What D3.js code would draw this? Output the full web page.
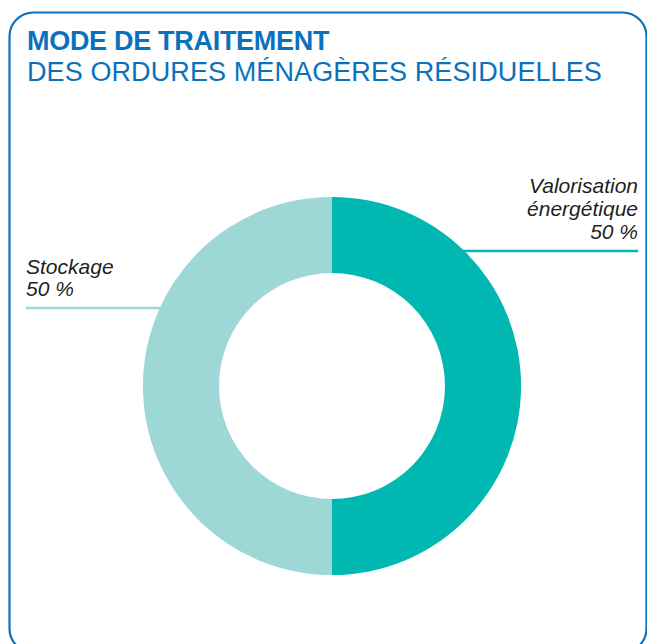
<!DOCTYPE html>
<html>
<head>
<meta charset="utf-8">
<script src="https://cdn.jsdelivr.net/npm/d3@7"></script>
<style>
  body { margin: 0; background: #fff; }
  text { font-family: "Liberation Sans", Arial, sans-serif; }
</style>
</head>
<body>
<div id="chart"></div>
<script>
// data
const categories = ["Valorisation énergétique", "Stockage"];
const values = [50, 50];
const labelLines = [["Valorisation", "énergétique", "50 %"], ["Stockage", "50 %"]];
const colors = ["#00b8b1", "#9ed8d6"];

const width = 647, height = 644;
const cx = 332, cy = 386;
const outerR = 189, innerR = 113;

let svg = d3.select("#chart")
    .append("svg")
    .attr("width", width)
    .attr("height", height);

// frame
svg.append("rect")
    .attr("x", 9.5)
    .attr("y", 12.5)
    .attr("width", 637)
    .attr("height", 640)
    .attr("rx", 24)
    .attr("fill", "none")
    .attr("stroke", "#0a71bd")
    .attr("stroke-width", 2.2);

// title
svg.append("text")
    .attr("x", 27)
    .attr("y", 50)
    .attr("fill", "#0a71bd")
    .style("font-weight", "bold")
    .style("font-size", "27px")
    .style("letter-spacing", "-0.3px")
    .text("MODE DE TRAITEMENT");

svg.append("text")
    .attr("x", 27)
    .attr("y", 81)
    .attr("fill", "#0a71bd")
    .style("font-size", "27px")
    .style("letter-spacing", "0.1px")
    .text("DES ORDURES MÉNAGÈRES RÉSIDUELLES");

let pie = d3.pie().sort(null).value(d => d);
let arcs = pie(values);
let arc = d3.arc().innerRadius(innerR).outerRadius(outerR);

// leader lines start at the donut's outer edge
const leaders = [
    {y: 251, side: 1, x2: 638, anchor: "end", ty: [193, 216, 239]},
    {y: 308, side: -1, x2: 26, anchor: "start", ty: [274, 296]}
];

leaders.forEach(function(l, i){
    let dx = Math.sqrt(outerR * outerR - (l.y - cy) * (l.y - cy));
    svg.append("line")
        .attr("x1", cx + l.side * (dx - 3))
        .attr("x2", l.x2)
        .attr("y1", l.y)
        .attr("y2", l.y)
        .attr("stroke", colors[i])
        .attr("stroke-width", 2.5);

    let t = svg.append("text")
        .attr("text-anchor", l.anchor)
        .attr("fill", "#231f20")
        .style("font-style", "italic")
        .style("font-size", "21px");
    labelLines[i].forEach(function(s, j){
        t.append("tspan")
            .attr("x", l.x2)
            .attr("y", l.ty[j])
            .text(s);
    });
});

let g = svg.append("g")
    .attr("transform", `translate(${cx}, ${cy})`);

g.selectAll("path")
    .data(arcs)
    .enter()
    .append("path")
    .attr("d", arc)
    .attr("fill", (d, i) => colors[i]);
</script>
</body>
</html>
